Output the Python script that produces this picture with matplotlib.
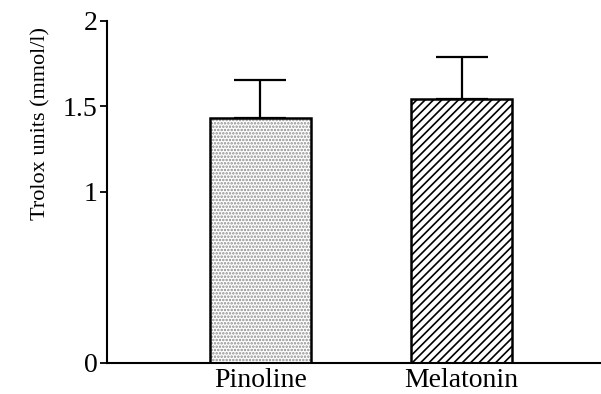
import matplotlib
matplotlib.use("Agg")
import matplotlib.pyplot as plt

# Trolox equivalent values (mmol/l) with upper SD
groups = ["Pinoline", "Melatonin"]
means = [1.43, 1.545]
sd_upper = [0.226, 0.245]
hatches = [".....", "////"]
hatch_colors = ["#8c8c8c", "black"]

y_ticks = [0, 1, 1.5, 2]
y_tick_labels = ["0", "1", "1.5", "2"]

plt.rcParams["font.family"] = ["Liberation Serif", "DejaVu Serif"]
plt.rcParams["hatch.linewidth"] = 1.2

fig = plt.figure(figsize=(6.01, 3.94), dpi=100)
ax = fig.add_axes([0.178, 0.079, 0.822, 0.868])

x = list(range(len(groups)))
for xi, m, h, hc in zip(x, means, hatches, hatch_colors):
    # hatched fill, then a black outline on top
    ax.bar(xi, m, width=0.5, facecolor="white", edgecolor=hc,
           hatch=h, linewidth=0, zorder=2)
    ax.bar(xi, m, width=0.5, facecolor="none", edgecolor="black",
           linewidth=1.8, zorder=3)

ax.errorbar(x, means, yerr=[[0] * len(means), sd_upper], fmt="none",
            ecolor="black", elinewidth=1.6, capsize=18.4, capthick=1.6,
            zorder=1)

ax.set_xlim(-0.761, 1.692)
ax.set_ylim(0, 2)
ax.set_yticks(y_ticks)
ax.set_yticklabels(y_tick_labels)
ax.set_xticks(x)
ax.set_xticklabels(groups)

ax.spines["top"].set_visible(False)
ax.spines["right"].set_visible(False)
ax.spines["left"].set_linewidth(1.5)
ax.spines["bottom"].set_linewidth(1.5)

ax.tick_params(axis="y", direction="out", length=5, width=1.3,
               labelsize=20, pad=2)
ax.tick_params(axis="x", length=0, labelsize=20, pad=4)
ax.set_ylabel("Trolox units (mmol/l)", fontsize=16)
ax.yaxis.set_label_coords(-0.115, 0.70)

fig.savefig("out.png", dpi=100)
